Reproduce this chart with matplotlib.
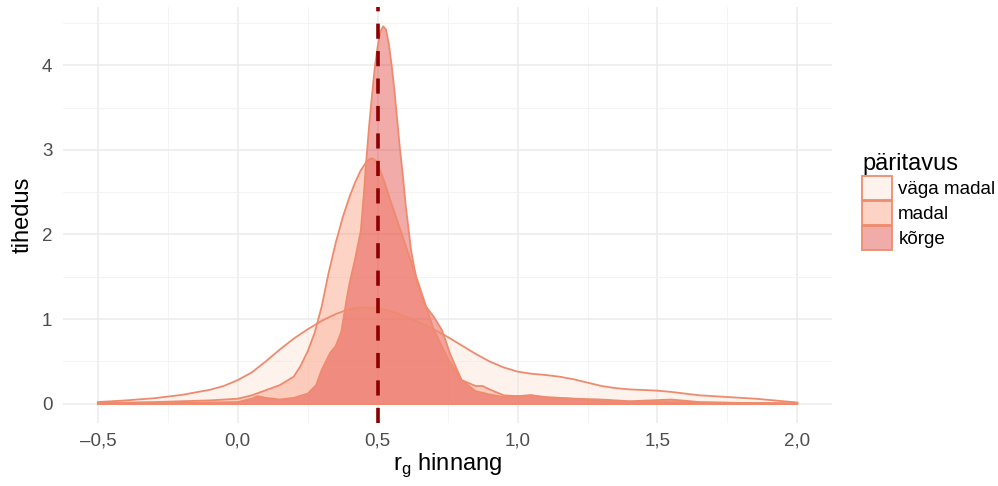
import matplotlib
matplotlib.use("Agg")
import matplotlib.pyplot as plt
from matplotlib.patches import Patch
from matplotlib.colors import to_rgba

plt.rcParams['font.family'] = ['Liberation Sans', 'DejaVu Sans']

# tiheduskõverad (loetud pildilt)
x_vaga = [-0.5, -0.4, -0.3, -0.2, -0.1, -0.05, 0.0, 0.05, 0.1, 0.15, 0.2, 0.25, 0.3, 0.35, 0.4,
          0.45, 0.5, 0.55, 0.6, 0.65, 0.7, 0.75, 0.8, 0.85, 0.9, 0.95, 1.0, 1.05, 1.1, 1.15,
          1.2, 1.25, 1.3, 1.35, 1.4, 1.45, 1.5, 1.55, 1.6, 1.65, 1.7, 1.75, 1.8, 1.85, 1.9,
          1.95, 2.0]
y_vaga = [0.02, 0.04, 0.065, 0.105, 0.165, 0.21, 0.28, 0.37, 0.50, 0.64, 0.77, 0.88, 0.98, 1.06, 1.12,
          1.14, 1.13, 1.09, 1.03, 0.96, 0.88, 0.79, 0.69, 0.59, 0.50, 0.43, 0.38, 0.355, 0.34, 0.32,
          0.29, 0.25, 0.21, 0.185, 0.17, 0.163, 0.155, 0.14, 0.12, 0.10, 0.09, 0.08, 0.07, 0.06, 0.045,
          0.03, 0.015]

x_madal = [-0.5, -0.3, -0.1, 0.0, 0.05, 0.1, 0.15, 0.2, 0.225, 0.25, 0.275, 0.3, 0.325, 0.35, 0.375,
           0.4, 0.42, 0.44, 0.46, 0.47, 0.48, 0.49, 0.5, 0.52, 0.55, 0.6, 0.65, 0.7, 0.75, 0.8,
           0.85, 0.875, 0.9, 0.95, 1.0, 1.05, 1.1, 1.2, 1.3, 1.5, 1.75, 2.0]
y_madal = [0.01, 0.02, 0.04, 0.06, 0.10, 0.16, 0.22, 0.32, 0.45, 0.62, 0.84, 1.15, 1.55, 1.90, 2.20,
           2.45, 2.62, 2.76, 2.86, 2.89, 2.90, 2.88, 2.83, 2.66, 2.36, 1.87, 1.38, 0.88, 0.54, 0.28,
           0.21, 0.21, 0.17, 0.10, 0.09, 0.10, 0.08, 0.06, 0.03, 0.02, 0.01, 0.005]

x_korge = [-0.5, -0.2, 0.0, 0.05, 0.07, 0.1, 0.15, 0.2, 0.22, 0.25, 0.28, 0.3, 0.33, 0.35, 0.37,
           0.38, 0.39, 0.4, 0.42, 0.44, 0.45, 0.46, 0.47, 0.48, 0.49, 0.5, 0.51, 0.52, 0.53, 0.54,
           0.55, 0.56, 0.57, 0.58, 0.59, 0.6, 0.62, 0.64, 0.67, 0.7, 0.73, 0.76, 0.8, 0.85,
           0.9, 0.95, 1.0, 1.05, 1.1, 1.2, 1.3, 1.4, 1.55, 1.65, 1.8, 2.0]
y_korge = [0.005, 0.01, 0.02, 0.06, 0.09, 0.07, 0.05, 0.07, 0.09, 0.12, 0.22, 0.40, 0.60, 0.68, 0.85,
           1.05, 1.25, 1.43, 1.72, 2.05, 2.45, 2.90, 3.30, 3.65, 3.98, 4.22, 4.40, 4.46, 4.42, 4.25,
           4.00, 3.70, 3.35, 3.00, 2.70, 2.35, 1.80, 1.45, 1.16, 1.03, 0.87, 0.58, 0.28, 0.15,
           0.11, 0.08, 0.09, 0.10, 0.07, 0.06, 0.05, 0.03, 0.05, 0.02, 0.01, 0.005]

labels = ["väga madal", "madal", "kõrge"]
fills = ["#FEE0D2", "#FC9272", "#DE2D26"]
edge = "#EE8B6E"
true_rg = 0.5

fig = plt.figure(figsize=(9.98, 4.86), dpi=100)
ax = fig.add_axes([0.063, 0.13, 0.771, 0.856])

for xs, ys, fc in [(x_vaga, y_vaga, fills[0]), (x_madal, y_madal, fills[1]), (x_korge, y_korge, fills[2])]:
    ax.fill_between(xs, 0, ys, facecolor=fc, alpha=0.4, edgecolor="none", zorder=2)
    ax.plot(xs, ys, color=edge, lw=1.3, zorder=3, solid_joinstyle="round")
    ax.plot([xs[0], xs[-1]], [0, 0], color=edge, lw=1.3, zorder=3)

ax.axvline(true_rg, color="#8B0000", lw=2.6, dashes=(4.2, 3.4), zorder=4)

ax.set_xlim(-0.625, 2.125)
ax.set_ylim(-0.225, 4.69)
ax.set_xticks([-0.5, 0.0, 0.5, 1.0, 1.5, 2.0])
ax.set_xticklabels(["\u20130,5", "0,0", "0,5", "1,0", "1,5", "2,0"])
ax.set_xticks([-0.25, 0.25, 0.75, 1.25, 1.75], minor=True)
ax.set_yticks([0, 1, 2, 3, 4])
ax.set_yticks([0.5, 1.5, 2.5, 3.5, 4.5], minor=True)
ax.grid(which="major", color="#EBEBEB", lw=1.1, zorder=0)
ax.grid(which="minor", color="#F2F2F2", lw=0.6, zorder=0)
ax.set_axisbelow(True)
for s in ax.spines.values():
    s.set_visible(False)
ax.tick_params(which="both", length=0, labelsize=13.5, labelcolor="#4D4D4D")
ax.tick_params(axis="x", pad=7)
ax.tick_params(axis="y", pad=7.5)

ax.set_xlabel("r$_\\mathregular{g}$ hinnang", fontsize=17, labelpad=1)
ax.set_ylabel("tihedus", fontsize=17, labelpad=6)

handles = [Patch(facecolor=to_rgba(fc, 0.4), edgecolor=edge, lw=1.3) for fc in fills]
fig.legend(handles, labels, title="päritavus", loc="upper left", bbox_to_anchor=(0.864, 0.685),
           frameon=False, fontsize=13.5, title_fontsize=17, handlelength=1.6, handleheight=1.6,
           handletextpad=0.32, labelspacing=0.05, alignment="left", borderaxespad=0,
           borderpad=0)

fig.savefig("out.png", dpi=100)
